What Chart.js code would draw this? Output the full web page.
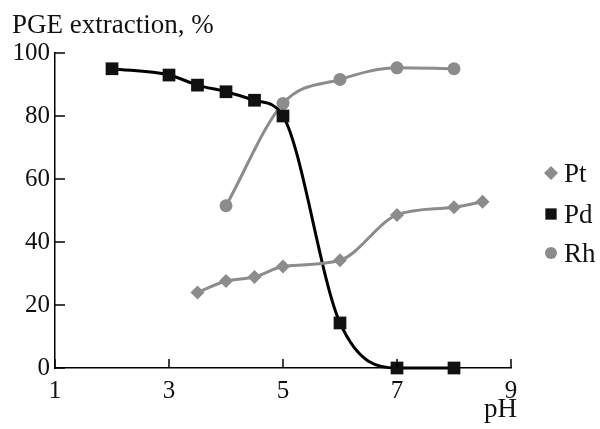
<!DOCTYPE html>
<html>
<head>
<meta charset="utf-8">
<script src="https://cdn.jsdelivr.net/npm/chart.js@4"></script>
<style>
  html, body { margin: 0; padding: 0; background: #fff; }
  #wrap { width: 600px; height: 429px; position: relative; }
</style>
</head>
<body>
<div id="wrap"><canvas id="pgeChart"></canvas></div>
<script>
// values
const ptPH = [3.5, 4, 4.5, 5, 6, 7, 8, 8.5];
const ptExtraction = [24, 27.6, 28.9, 32.2, 34.2, 48.6, 51, 52.8];

const pdPH = [2, 3, 3.5, 4, 4.5, 5, 6, 7, 8];
const pdExtraction = [95, 93, 89.8, 87.7, 85, 80, 14.3, 0, 0];

const rhPH = [4, 5, 6, 7, 8];
const rhExtraction = [51.5, 84, 91.6, 95.3, 95];

const xTicks = [1, 3, 5, 7, 9];
const yTicks = [0, 20, 40, 60, 80, 100];

const grey = '#8c8c8c';
const serif = "'Liberation Serif', 'DejaVu Serif', serif";

function toPoints(xs, ys) {
    return xs.map((x, i) => ({ x: x, y: ys[i] }));
}

// draws the inward ticks, the axis captions and the legend
const decorPlugin = {
    id: 'decor',
    afterDraw(chart) {
        const ctx = chart.ctx;
        const xs = chart.scales.x;
        const ys = chart.scales.y;
        const area = chart.chartArea;
        ctx.save();
        ctx.strokeStyle = '#000';
        ctx.lineWidth = 1.5;
        xTicks.forEach(v => {
            const px = xs.getPixelForValue(v);
            ctx.beginPath();
            ctx.moveTo(px, area.bottom);
            ctx.lineTo(px, area.bottom - 9);
            ctx.stroke();
        });
        yTicks.forEach(v => {
            const py = ys.getPixelForValue(v);
            ctx.beginPath();
            ctx.moveTo(area.left, py);
            ctx.lineTo(area.left + 10, py);
            ctx.stroke();
        });

        ctx.fillStyle = '#111';
        ctx.font = '27px ' + serif;
        ctx.textBaseline = 'alphabetic';
        ctx.textAlign = 'left';
        ctx.fillText('PGE extraction, %', 12, 33);
        ctx.textAlign = 'right';
        ctx.fillText('pH', 517, 417);

        // legend
        const rows = [
            { label: 'Pt', y: 173 },
            { label: 'Pd', y: 214 },
            { label: 'Rh', y: 253 }
        ];
        ctx.textAlign = 'left';
        ctx.textBaseline = 'middle';
        rows.forEach((row, i) => {
            const ds = chart.data.datasets[i];
            ctx.fillStyle = ds.pointBackgroundColor;
            ctx.strokeStyle = ds.pointBackgroundColor;
            Chart.helpers.drawPoint(ctx, {
                pointStyle: ds.pointStyle,
                radius: ds.legendRadius,
                borderWidth: 0
            }, 551, row.y);
            ctx.fillStyle = '#111';
            ctx.fillText(row.label, 564, row.y + 2);
        });
        ctx.restore();
    }
};

const chart = new Chart(document.getElementById('pgeChart'), {
    type: 'line',
    data: {
        datasets: [
            {
                label: 'Pt',
                data: toPoints(ptPH, ptExtraction),
                borderColor: grey,
                backgroundColor: grey,
                pointBackgroundColor: grey,
                pointBorderWidth: 0,
                pointStyle: 'rectRot',
                pointRadius: 7,
                legendRadius: 7,
                borderWidth: 3,
                cubicInterpolationMode: 'monotone',
                clip: false
            },
            {
                label: 'Pd',
                data: toPoints(pdPH, pdExtraction),
                borderColor: '#000',
                backgroundColor: '#111',
                pointBackgroundColor: '#111',
                pointBorderWidth: 0,
                pointStyle: 'rect',
                pointRadius: 9,
                legendRadius: 8,
                borderWidth: 3,
                cubicInterpolationMode: 'monotone',
                clip: false
            },
            {
                label: 'Rh',
                data: toPoints(rhPH, rhExtraction),
                borderColor: grey,
                backgroundColor: grey,
                pointBackgroundColor: grey,
                pointBorderWidth: 0,
                pointStyle: 'circle',
                pointRadius: 6.5,
                legendRadius: 6,
                borderWidth: 3,
                cubicInterpolationMode: 'monotone',
                clip: false
            }
        ]
    },
    options: {
        responsive: true,
        maintainAspectRatio: false,
        animation: false,
        layout: { padding: { top: 53, right: 89, left: 0, bottom: 0 } },
        plugins: {
            legend: { display: false },
            title: { display: false },
            tooltip: { enabled: false }
        },
        scales: {
            x: {
                type: 'linear',
                min: 1,
                max: 9,
                afterBuildTicks(scale) {
                    scale.ticks = xTicks.map(v => ({ value: v }));
                },
                afterFit(scale) { scale.height = 61; },
                grid: { display: false, drawTicks: false },
                border: { display: true, color: '#000', width: 1.5 },
                ticks: {
                    color: '#111',
                    padding: 8,
                    maxRotation: 0,
                    font: { family: serif, size: 25 }
                }
            },
            y: {
                type: 'linear',
                min: 0,
                max: 100,
                afterBuildTicks(scale) {
                    scale.ticks = yTicks.map(v => ({ value: v }));
                },
                afterFit(scale) { scale.width = 55; },
                grid: { display: false, drawTicks: false },
                border: { display: true, color: '#000', width: 1.5 },
                ticks: {
                    color: '#111',
                    padding: 5,
                    font: { family: serif, size: 25 }
                }
            }
        }
    },
    plugins: [decorPlugin]
});
</script>
</body>
</html>
